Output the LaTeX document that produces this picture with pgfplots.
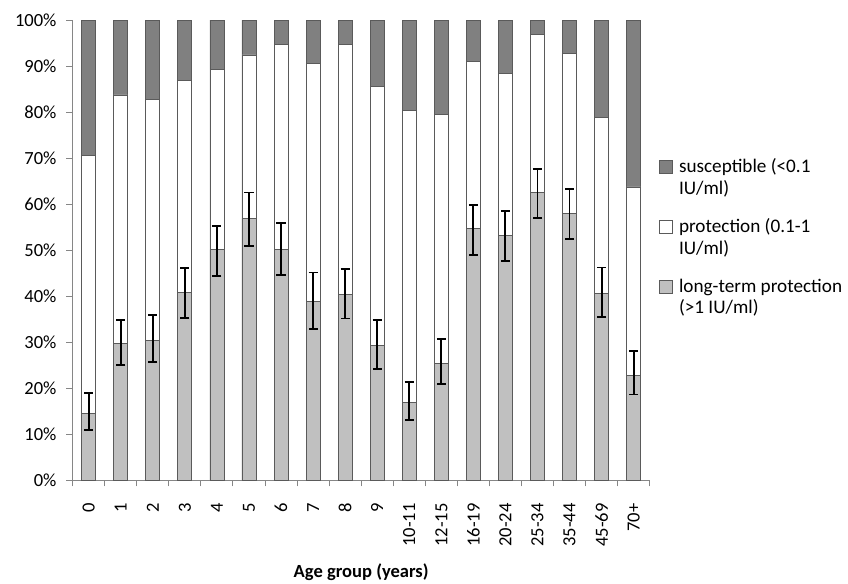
\documentclass[border=0pt]{standalone}
\usepackage{pgfplots}
\usepackage{pgfplotstable}
\pgfplotsset{compat=1.18}
\usepackage{fontspec}
\setmainfont{Carlito}
\definecolor{darkfill}{HTML}{808080}
\definecolor{lightfill}{HTML}{C0C0C0}
\definecolor{edge}{HTML}{5A5A5A}
\definecolor{axisgray}{HTML}{868686}

\pgfplotstableread{
x L B lo hi T
0 14.5 70.6 10.9 18.9 100
1 29.7 83.7 25.0 34.8 100
2 30.4 82.8 25.7 35.8 100
3 40.7 86.9 35.3 46.0 100
4 50.1 89.2 44.4 55.3 100
5 56.8 92.4 50.9 62.5 100
6 50.2 94.6 44.6 55.9 100
7 38.8 90.5 32.8 45.1 100
8 40.4 94.7 35.1 45.9 100
9 29.2 85.6 24.2 34.8 100
10 16.9 80.3 13.1 21.4 100
11 25.4 79.4 20.9 30.6 100
12 54.6 90.9 49.0 59.8 100
13 53.2 88.3 47.7 58.5 100
14 62.6 96.9 57.0 67.7 100
15 58.0 92.7 52.3 63.3 100
16 40.6 78.9 35.5 46.2 100
17 22.8 63.7 18.6 28.0 100
}\data

\begin{document}
\fontsize{13.9}{18.6}\selectfont
\begin{tikzpicture}
\useasboundingbox (-54.5pt,-77.25pt) rectangle (581.5pt,360pt);
\begin{axis}[
  scale only axis,
  width=432.75pt, height=345pt,
  ybar, bar width=10.5pt, bar shift=0pt,
  xmin=-0.5, xmax=17.5, ymin=0, ymax=100,
  axis x line*=bottom, axis y line*=left,
  axis line style={axisgray, line width=0.75pt},
  xtick=data,
  xticklabels={0,1,2,3,4,5,6,7,8,9,10-11,12-15,16-19,20-24,25-34,35-44,45-69,70+},
  major x tick style={draw=none},
  minor xtick={-0.5,0.5,...,17.5},
  minor x tick style={axisgray, line width=0.75pt},
  minor tick length=4.8pt,
  xticklabel style={rotate=90, anchor=east, font=\fontsize{13.9}{16}\selectfont},
  xticklabel shift=8pt,
  ytick={0,10,...,100},
  yticklabels={0\%,10\%,20\%,30\%,40\%,50\%,60\%,70\%,80\%,90\%,100\%},
  yticklabel style={font=\fontsize{13.9}{16}\selectfont},
  yticklabel shift=2.5pt,
  major y tick style={axisgray, line width=0.75pt},
  major tick length=4.8pt,
  tick align=outside,
  xlabel={\textbf{Age group (years)}},
  xlabel style={font=\fontsize{13.9}{16}\selectfont, yshift=-3pt},
  legend style={at={(rel axis cs:1,0.72)}, anchor=north west, xshift=7pt, yshift=-5pt,
    draw=none, fill=none, inner sep=0pt, row sep=12.25pt,
    font=\fontsize{14.4}{16.3}\selectfont,
    cells={anchor=west, align=left}},
  legend image code/.code={\draw[#1] (0pt,3.4pt) rectangle (9.5pt,12.9pt); \path[draw=none, fill=none] (0pt,0pt) -- (12.5pt,0pt);},
  clip=false,
]
\addplot[fill=darkfill, draw=edge, line width=0.6pt] table[x=x, y=T] {\data};
\addlegendentry{susceptible (<0.1\\IU/ml)}
\addplot[fill=white, draw=edge, line width=0.6pt] table[x=x, y=B] {\data};
\addlegendentry{protection (0.1-1\\IU/ml)}
\addplot[fill=lightfill, draw=edge, line width=0.6pt] table[x=x, y=L] {\data};
\addlegendentry{long-term protection\\(>1 IU/ml)}
\addplot[draw=none, fill=none, forget plot,
  error bars/.cd, y dir=both, y explicit,
  error bar style={black, line width=1.4pt},
  error mark options={rotate=90, mark size=3.4pt, line width=1.4pt, black}]
  table[x=x, y=L, y error plus expr=\thisrow{hi}-\thisrow{L}, y error minus expr=\thisrow{L}-\thisrow{lo}] {\data};
\end{axis}
\end{tikzpicture}
\end{document}
